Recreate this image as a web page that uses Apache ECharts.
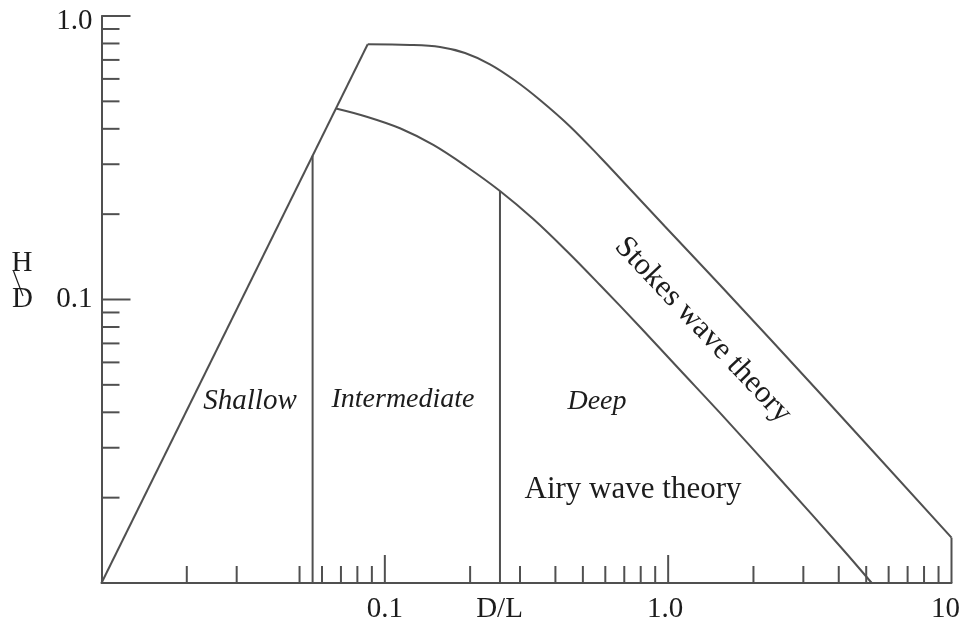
<!DOCTYPE html>
<html>
<head>
<meta charset="utf-8">
<script src="https://cdn.jsdelivr.net/npm/echarts@6/dist/echarts.min.js"></script>
<style>
  html, body { margin: 0; padding: 0; background: #ffffff; }
  #chart { width: 961px; height: 626px; }
</style>
</head>
<body>
<div id="chart"></div>
<script>
// Relative depth D/L (x) against relative wave height H/D (y), both logarithmic.

// Tick marks along the D/L axis
const xMajorTicks = [0.1, 1];
const xMinorTicks = [0.02, 0.03, 0.05, 0.06, 0.07, 0.08, 0.09,
                     0.2, 0.3, 0.4, 0.5, 0.6, 0.7, 0.8, 0.9,
                     2, 3, 4, 5, 6, 7, 8, 9];

// Tick marks along the H/D axis
const yMajorTicks = [0.1, 1];
const yMinorTicks = [0.02, 0.03, 0.04, 0.05, 0.06, 0.07, 0.08, 0.09,
                     0.2, 0.3, 0.4, 0.5, 0.6, 0.7, 0.8, 0.9];

// Shallow-water limit (rising straight line)
const shallowLimit = [[0.01, 0.01], [0.087, 0.7948]];

// Upper limit of Stokes wave theory
const stokesLimit = [
  [0.087, 0.7948], [0.1227, 0.7909], [0.1566, 0.7775], [0.1919, 0.7405],
  [0.235, 0.6756], [0.288, 0.5923], [0.3529, 0.5056], [0.4504, 0.4079],
  [0.5746, 0.3182], [0.7333, 0.2454], [0.9745, 0.1809], [1.524, 0.1125],
  [3.435, 0.0467], [10, 0.01445]
];

// Upper limit of Airy (linear) wave theory
const airyLimit = [
  [0.0672, 0.4716], [0.0863, 0.4413], [0.1131, 0.4017], [0.1483, 0.3508],
  [0.1945, 0.294], [0.2549, 0.2414], [0.3342, 0.1923], [0.4384, 0.1483],
  [0.5746, 0.1125], [0.7955, 0.08], [1.101, 0.0564], [1.524, 0.0398],
  [2.481, 0.02327], [4.152, 0.01307], [5.229, 0.01]
];

// Boundaries between the depth regimes and the right-hand edge
const shallowBoundary = [[0.0556, 0.01], [0.0556, 0.3214]];
const deepBoundary = [[0.2549, 0.01], [0.2549, 0.2414]];
const rightEdge = [[10, 0.01], [10, 0.01445]];

// Region and theory names
const regionNames = ['Shallow', 'Intermediate', 'Deep'];
const airyName = 'Airy wave theory';
const stokesName = 'Stokes wave theory';

const INK = '#505050';
const TEXT = '#1c1c1c';
const FONT = '"Liberation Serif", "Times New Roman", serif';
const FS = 29;

function lineSeries(data, smooth) {
  return {
    type: 'line', data: data, showSymbol: false, silent: true,
    smooth: smooth || false,
    lineStyle: { color: INK, width: 2 }, z: 3
  };
}

function tickSeries(values, axis, len) {
  return {
    type: 'custom', silent: true, z: 4,
    data: values.map(v => axis === 'x' ? [v, 0.01] : [0.01, v]),
    renderItem: function (params, api) {
      const p = api.coord([api.value(0), api.value(1)]);
      const shape = axis === 'x'
        ? { x1: p[0], y1: p[1], x2: p[0], y2: p[1] - len }
        : { x1: p[0], y1: p[1], x2: p[0] + len, y2: p[1] };
      return { type: 'line', shape: shape, style: { stroke: INK, lineWidth: 2 } };
    }
  };
}

function decade(v) { return Math.round(Math.log10(v)); }

function note(text, x, y, size, italic, rotationDeg) {
  return {
    type: 'text', x: x, y: y, silent: true,
    rotation: (rotationDeg || 0) * Math.PI / 180,
    style: { text: text, fontFamily: FONT, fontStyle: italic ? 'italic' : 'normal',
             fontSize: size, fill: TEXT, align: 'center', verticalAlign: 'middle' }
  };
}

const chart = echarts.init(document.getElementById('chart'), null, { renderer: 'canvas' });

chart.setOption({
  backgroundColor: '#ffffff',
  animation: false,
  grid: { left: 101.5, right: 9.5, top: 16, bottom: 43,
          containLabel: false, outerBoundsMode: 'none' },
  xAxis: {
    type: 'log', logBase: 10, min: 0.01, max: 10,
    name: 'D/L', nameLocation: 'middle', nameGap: 12, nameMoveOverlap: false,
    nameTextStyle: { fontFamily: FONT, fontSize: FS, color: TEXT, verticalAlign: 'top',
                     padding: [0, 54, 0, 0], lineHeight: FS },
    axisLine: { show: true, onZero: false, lineStyle: { color: INK, width: 2 } },
    axisTick: { show: false }, splitLine: { show: false }, minorTick: { show: false },
    axisLabel: {
      margin: 12, fontFamily: FONT, fontSize: FS, color: TEXT, lineHeight: FS,
      formatter: function (v) {
        const e = decade(v);
        if (e === -1) return '0.1';
        if (e === 0) return '{a|1.0}';
        if (e === 1) return '{b|10}';
        return '';
      },
      rich: {
        a: { fontFamily: FONT, fontSize: FS, color: TEXT, padding: [0, 6, 0, 0] },
        b: { fontFamily: FONT, fontSize: FS, color: TEXT, padding: [0, 12, 0, 0] }
      }
    }
  },
  yAxis: {
    type: 'log', logBase: 10, min: 0.01, max: 1,
    axisLine: { show: true, onZero: false, lineStyle: { color: INK, width: 2 } },
    axisTick: { show: false }, splitLine: { show: false }, minorTick: { show: false },
    axisLabel: {
      margin: 9, fontFamily: FONT, fontSize: FS, color: TEXT,
      formatter: function (v) {
        const e = decade(v);
        if (e === 0) return '{a|1.0}';
        if (e === -1) return '0.1';
        return '';
      },
      rich: {
        a: { fontFamily: FONT, fontSize: FS, color: TEXT, padding: [10, 0, 0, 0] }
      }
    }
  },
  series: [
    lineSeries(shallowLimit),
    lineSeries(stokesLimit, 0.35),
    lineSeries(airyLimit, 0.35),
    lineSeries(shallowBoundary),
    lineSeries(deepBoundary),
    lineSeries(rightEdge),
    tickSeries(xMajorTicks, 'x', 28),
    tickSeries(xMinorTicks, 'x', 17),
    tickSeries(yMajorTicks, 'y', 29),
    tickSeries(yMinorTicks, 'y', 18)
  ],
  graphic: [
    note(regionNames[0], 250, 401, 29, true),
    note(regionNames[1], 403, 400, 28, true),
    note(regionNames[2], 597, 402, 28, true),
    note(airyName, 633, 490, 31, false),
    note(stokesName, 703, 330, 31, false, -46.7),
    // H/D axis title drawn as a slashed stack
    note('H', 22, 263, FS, false),
    note('D', 22.5, 299, FS, false),
    { type: 'line', silent: true,
      shape: { x1: 13.5, y1: 271, x2: 23, y2: 296 },
      style: { stroke: TEXT, lineWidth: 1.2 } }
  ]
});
</script>
</body>
</html>
